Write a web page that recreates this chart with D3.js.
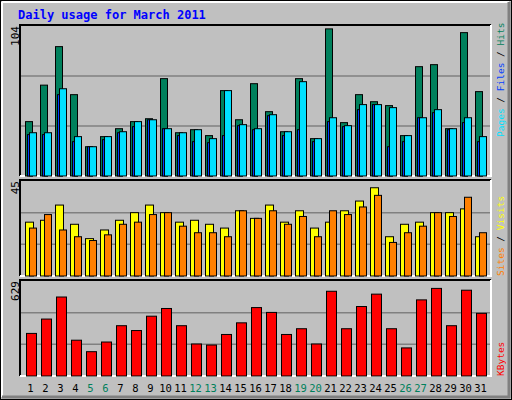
<!DOCTYPE html><html><head><meta charset="utf-8">
<script src="https://cdn.jsdelivr.net/npm/d3@7"></script>
<style>body{margin:0;background:#fff}svg text{font-family:"DejaVu Sans Mono",monospace}</style></head><body>
<script>
const days=d3.range(1,32);
const weekend=[5,6,12,13,19,20,26,27];
const hits=[37.7,63,89.7,56.4,20.3,27.3,32.8,37.7,39.7,67.5,30,32.1,28,59.2,39,64,44.6,30.7,67.5,25.9,102,37,56.4,51.5,48.8,28,75.8,77.2,32.8,99.4,58.5];
const files=[28.7,28.7,56.4,23.8,20.3,25.2,30,34.2,39,32.8,28,23.8,23.1,28,34.9,32.1,41.8,28,32.1,23.8,37.7,34.2,46,49.5,20.3,23.8,40.4,43.9,32.1,37,23.8];
const pages=[30,30,60.5,27.3,20.3,27.3,30.7,37.7,39,32.8,30,32.1,25.9,59.2,35.6,32.8,42.5,30.7,65.4,25.9,40.4,34.9,49.5,49.5,47.4,28,40.4,46,32.8,40.4,27.3];
const sites=[25.5,26.4,33.6,24.5,17.7,21.8,26.4,30,33.6,30,25.5,26.4,24.5,22.7,30.9,27.3,33.6,25.5,30.9,22.7,25.5,30.9,35.5,41.8,18.6,24.5,25.5,30,30,31.8,18.6];
const visits=[22.7,29.1,21.8,18.6,16.8,19.5,24.5,25.5,29.1,30,23.6,20.5,20.5,18.6,30.9,27.3,30.9,24.5,28.2,18.6,30.9,29.1,32.7,38.2,15.9,20.5,23.6,30,28.2,37.3,20.5];
const kbytes=[282,377,523,237,161,225,333,301,396,447,333,212,205,275,352,453,421,275,313,212,561,313,460,542,313,186,504,580,333,568,415];
const maxHits=104,maxSites=45,maxKB=629;

const svg=d3.select("body").append("svg").attr("width",512).attr("height",400);
svg.append("rect").attr("width",512).attr("height",400).attr("fill","#c0c0c0");
svg.append("rect").attr("x",0.5).attr("y",0.5).attr("width",511).attr("height",399).attr("fill","none").attr("stroke","#000");
svg.append("path").attr("d","M2,2H509M2,2V397").attr("stroke","#fff").attr("stroke-width",2);
svg.append("path").attr("d","M509,2V398M2,397H510").attr("stroke","#808080").attr("stroke-width",3);
svg.append("text").attr("x",18).attr("y",19).attr("fill","#0000ff").attr("font-weight","bold").attr("font-size",12).text("Daily usage for March 2011");

const x=d3.scaleBand().domain(days).range([21,486]).paddingInner(0);
const L=20,R=491;
function panel(top,bot,max,label){
  svg.append("path").attr("d",`M${L},${bot}V${top}H${R}`).attr("stroke","#000").attr("fill","none").attr("stroke-width",2);
  svg.append("path").attr("d",`M${R},${top}V${bot}H${L}`).attr("stroke","#fff").attr("fill","none").attr("stroke-width",2);
  const y=d3.scaleLinear().domain([0,max]).range([bot,top+1]);
  [1/3,2/3].forEach(f=>svg.append("line").attr("x1",L+1).attr("x2",R-1).attr("y1",y(max*f)).attr("y2",y(max*f)).attr("stroke","#808080").attr("stroke-width",1.5));
  svg.append("text").attr("transform",`translate(19,${top+1}) rotate(-90)`).attr("text-anchor","end").attr("font-size",11).text(label);
  return y;
}
function bars(data,y,off,w,color){
  svg.append("g").selectAll("rect").data(data).join("rect")
   .attr("x",(d,i)=>x(days[i])+off).attr("y",d=>y(d)).attr("width",w).attr("height",d=>y(0)-y(d))
   .attr("fill",color).attr("stroke","#000").attr("stroke-width",1);
}
const y1=panel(25,176,maxHits,"104");
bars(hits,y1,4.5,7,"#00805c");
bars(files,y1,6.5,5,"#0040ff");
bars(pages,y1,8.5,7,"#00e0ff");
const y2=panel(180,276,maxSites,"45");
bars(sites,y2,4.5,8,"#ffff00");
bars(visits,y2,8.5,7,"#ff8000");
const y3=panel(280,376,maxKB,"629");
bars(kbytes,y3,5.5,10,"#ff0000");

svg.append("g").selectAll("text").data(days).join("text")
  .attr("x",d=>x(d)+x.bandwidth()/2+2).attr("y",392).attr("text-anchor","middle").attr("font-size",10.5)
  .attr("fill",d=>weekend.includes(d)?"#00805c":"#000").text(d=>d);

function legend(y0,parts){
  const t=svg.append("text").attr("transform",`translate(504,${y0}) rotate(-90)`).attr("font-size",9.5);
  parts.forEach(([s,c])=>t.append("tspan").attr("fill",c).text(s));
}
legend(137,[["Pages","#00e0ff"],[" / ","#000"],["Files","#0040ff"],[" / ","#000"],["Hits","#00805c"]]);
legend(276,[["Sites","#ff8000"],[" / ","#000"],["Visits","#ffff00"]]);
legend(376,[["KBytes","#ff0000"]]);
</script></body></html>
